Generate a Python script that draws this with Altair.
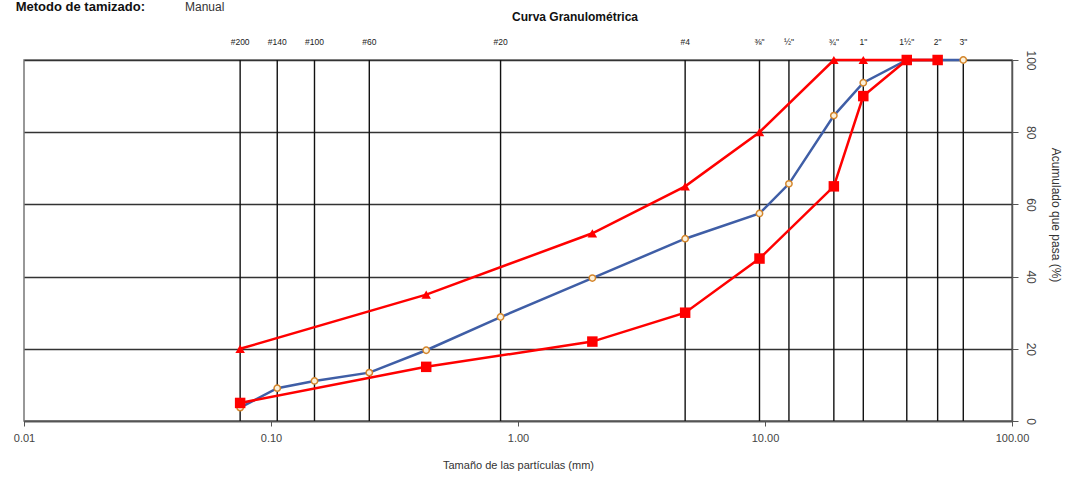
import altair as alt
import pandas as pd

# Sieve openings (mm) and their labels
sieve_labels = ["#200", "#140", "#100", "#60", "#20", "#4", '⅜"', '½"', '¾"', '1"', '1½"', '2"', '3"']
sieve_sizes = [0.075, 0.106, 0.15, 0.25, 0.85, 4.75, 9.5, 12.5, 19.0, 25.0, 37.5, 50.0, 63.5]

# Sample grading curve
sample_sizes = [0.075, 0.106, 0.15, 0.25, 0.425, 0.85, 2.0, 4.75, 9.5, 12.5, 19.0, 25.0, 37.5, 50.0, 63.5]
sample_pass = [3.7, 9.1, 11.1, 13.4, 19.6, 28.8, 39.6, 50.5, 57.5, 65.7, 84.6, 93.7, 100, 100, 100]

# Specification limits
limit_sizes = [0.075, 0.425, 2.0, 4.75, 9.5, 19.0, 25.0, 37.5, 50.0]
upper_pass = [20, 35, 52, 65, 80, 100, 100, 100, 100]
lower_pass = [5, 15, 22, 30, 45, 65, 90, 100, 100]

x_ticks = [0.01, 0.1, 1, 10, 100]
y_ticks = [0, 20, 40, 60, 80, 100]

FONT = "Liberation Sans"

sieves = pd.DataFrame({"size": sieve_sizes, "label": sieve_labels})
sample = pd.DataFrame({"size": sample_sizes, "pass": sample_pass})
upper = pd.DataFrame({"size": limit_sizes, "pass": upper_pass})
lower = pd.DataFrame({"size": limit_sizes, "pass": lower_pass})

xscale = alt.Scale(type="log", domain=[0.01, 100])
yscale = alt.Scale(domain=[0, 100])

xenc = alt.X(
    "size:Q", scale=xscale,
    axis=alt.Axis(
        values=x_ticks, format=".2f", title="Tamaño de las partículas (mm)",
        grid=False, domainColor="#555", domainWidth=1.5, tickColor="#555", tickSize=5,
        labelColor="#444", labelFontSize=11, labelPadding=6, labelFont=FONT, labelFlush=False,
        titleFont=FONT, titleFontWeight="normal", titleFontSize=11, titleColor="#333",
        titlePadding=16,
    ),
)
yenc = alt.Y(
    "pass:Q", scale=yscale,
    axis=alt.Axis(
        orient="right", values=y_ticks, title=None,
        grid=True, gridColor="#333", gridWidth=1.3,
        domainColor="#555", domainWidth=1.5, tickColor="#555", tickSize=6,
        labelAngle=90, labelAlign="center", labelBaseline="bottom", labelFlush=False,
        labelColor="#444", labelFontSize=12, labelPadding=5, labelFont=FONT,
    ),
)

base_axes = alt.Chart(sample).mark_line(opacity=0).encode(x=xenc, y=yenc)

vlines = alt.Chart(sieves).mark_rule(color="#111", strokeWidth=1.4).encode(
    x=alt.X("size:Q", scale=xscale), y=alt.value(0), y2=alt.value(361)
)

vlabels = alt.Chart(sieves).mark_text(
    fontSize=8.5, color="#222", font=FONT, baseline="middle"
).encode(x=alt.X("size:Q", scale=xscale), y=alt.value(-18), text="label:N")

sample_line = alt.Chart(sample).mark_line(
    color="#3f5ea6", strokeWidth=2.5,
    point=alt.OverlayMarkDef(shape="circle", filled=True, fill="#fbf1dc", stroke="#d4862c", strokeWidth=1.5, size=40),
).encode(x=alt.X("size:Q", scale=xscale), y=alt.Y("pass:Q", scale=yscale))

upper_line = alt.Chart(upper).mark_line(
    color="#ff0000", strokeWidth=2.5,
    point=alt.OverlayMarkDef(shape="triangle-up", filled=True, color="#ff0000", size=90),
).encode(x=alt.X("size:Q", scale=xscale), y=alt.Y("pass:Q", scale=yscale))

lower_line = alt.Chart(lower).mark_line(
    color="#ff0000", strokeWidth=2.5,
    point=alt.OverlayMarkDef(shape="square", filled=True, color="#ff0000", size=110),
).encode(x=alt.X("size:Q", scale=xscale), y=alt.Y("pass:Q", scale=yscale))

title_txt = alt.Chart(pd.DataFrame({"t": ["Curva Granulométrica"]})).mark_text(
    fontSize=12, fontWeight="bold", font=FONT, color="#111", baseline="middle"
).encode(x=alt.value(551), y=alt.value(-43), text="t:N")

header_a = alt.Chart(pd.DataFrame({"t": ["Metodo de tamizado:"]})).mark_text(
    fontSize=13, fontWeight="bold", font=FONT, color="#111", align="right", baseline="alphabetic"
).encode(x=alt.value(121), y=alt.value(-49), text="t:N")

header_b = alt.Chart(pd.DataFrame({"t": ["Manual"]})).mark_text(
    fontSize=12, font=FONT, color="#333", align="left", baseline="alphabetic"
).encode(x=alt.value(161), y=alt.value(-49), text="t:N")

ytitle = alt.Chart(pd.DataFrame({"t": ["Acumulado que pasa (%)"]})).mark_text(
    fontSize=12, font=FONT, color="#333", angle=90, align="center", baseline="bottom"
).encode(x=alt.value(1025), y=alt.value(155), text="t:N")

chart = alt.layer(
    base_axes, vlines, vlabels, sample_line, upper_line, lower_line,
    title_txt, header_a, header_b, ytitle,
).properties(
    width=988, height=361,
    autosize=alt.AutoSizeParams(type="none"),
    padding={"left": 24, "top": 60, "right": 53, "bottom": 59},
    background="white",
).configure_view(stroke="#777", strokeWidth=1.5)

chart.save("out.html", embed_options={"renderer": "svg", "actions": False})
